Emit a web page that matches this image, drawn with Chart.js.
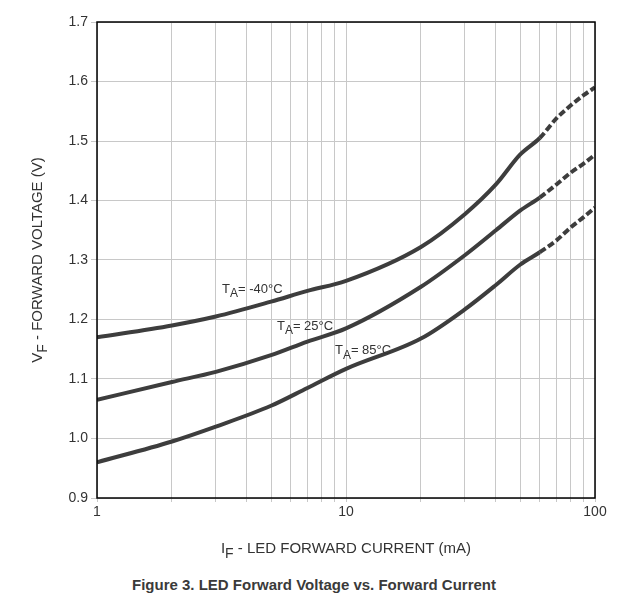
<!DOCTYPE html>
<html>
<head>
<meta charset="utf-8">
<script src="https://cdn.jsdelivr.net/npm/chart.js@4"></script>
<style>
  body { margin: 0; background: #fff; font-family: Arial, "Liberation Sans", sans-serif; }
  #wrap { position: relative; width: 628px; height: 612px; }
  #caption { position: absolute; top: 576px; left: 0; width: 628px; text-align: center;
             font-weight: bold; font-size: 15px; color: #3a3a3a; }
</style>
</head>
<body>
<div id="wrap">
  <div style="width:628px;height:575px"><canvas id="chart"></canvas></div>
  <div id="caption">Figure 3. LED Forward Voltage vs. Forward Current</div>
</div>
<script>
// --- data: IF (mA) vs VF (V) ---
const currents = [1, 2, 3, 5, 7, 10, 20, 30, 40, 50, 60, 70, 80, 90, 100];
const curves = {
    '-40': [1.17, 1.19, 1.205, 1.23, 1.248, 1.265, 1.322, 1.377, 1.427, 1.477, 1.505, 1.538, 1.56, 1.577, 1.59],
    '25':  [1.065, 1.095, 1.112, 1.14, 1.163, 1.185, 1.255, 1.308, 1.35, 1.383, 1.405, 1.427, 1.447, 1.462, 1.477],
    '85':  [0.96, 0.995, 1.02, 1.055, 1.085, 1.117, 1.168, 1.217, 1.258, 1.292, 1.313, 1.333, 1.355, 1.372, 1.388]
};
const labels = [
    { text: '-40°C', x: 3.18, y: 1.245 },
    { text: '25°C', x: 5.28, y: 1.183 },
    { text: '85°C', x: 9.03, y: 1.142 }
];
const lineColor = '#3d3d3d';

// 60 mA 이상 구간은 점선
const datasets = Object.keys(curves).map(k => ({
    data: currents.map((c, i) => ({ x: c, y: curves[k][i] })),
    borderColor: lineColor,
    borderWidth: 4,
    pointRadius: 0,
    cubicInterpolationMode: 'monotone',
    segment: { borderDash: ctx => ctx.p0.parsed.x >= 60 ? [7, 3] : undefined }
}));

const logTicks = [];
[1, 10].forEach(d => { for (let m = 1; m < 10; m++) logTicks.push({ value: m * d }); });
logTicks.push({ value: 100 });

function subText(ctx, x, y, main, sub, rest, size, measureOnly) {
    let w = 0;
    [[main, size, 0], [sub, size - 1, size * 0.35], [rest, size, 0]].forEach(([t, s, dy]) => {
        ctx.font = s + 'px Arial';
        if (!measureOnly) ctx.fillText(t, x + w, y + dy);
        w += ctx.measureText(t).width;
    });
    return w;
}

const annotations = {
    id: 'annotations',
    afterDraw(chart) {
        const { ctx, scales: { x, y }, chartArea } = chart;
        ctx.save();
        ctx.fillStyle = '#333';
        ctx.textBaseline = 'alphabetic';
        labels.forEach(l => {
            subText(ctx, x.getPixelForValue(l.x), y.getPixelForValue(l.y), 'T', 'A', '= ' + l.text, 13);
        });
        // 테두리
        ctx.strokeStyle = '#000';
        ctx.lineWidth = 1.5;
        ctx.strokeRect(chartArea.left, chartArea.top, chartArea.right - chartArea.left, chartArea.bottom - chartArea.top);
        // x축 제목
        const xt = ['I', 'F', ' - LED FORWARD CURRENT (mA)'];
        const tw = subText(ctx, 0, 0, xt[0], xt[1], xt[2], 15, true);
        subText(ctx, (chartArea.left + chartArea.right) / 2 - tw / 2, 553, xt[0], xt[1], xt[2], 15);
        // y축 제목
        ctx.save();
        ctx.translate(42, (chartArea.top + chartArea.bottom) / 2);
        ctx.rotate(-Math.PI / 2);
        const yw = subText(ctx, 0, 0, 'V', 'F', ' - FORWARD VOLTAGE (V)', 15, true);
        subText(ctx, -yw / 2, 0, 'V', 'F', ' - FORWARD VOLTAGE (V)', 15);
        ctx.restore();
        ctx.restore();
    }
};

new Chart(document.getElementById('chart'), {
    type: 'line',
    data: { datasets },
    plugins: [annotations],
    options: {
        responsive: true,
        maintainAspectRatio: false,
        animation: false,
        layout: { padding: { top: 22, right: 33 } },
        plugins: { legend: { display: false }, tooltip: { enabled: false } },
        scales: {
            x: {
                type: 'logarithmic',
                min: 1, max: 100,
                afterBuildTicks: s => { s.ticks = logTicks.map(t => ({ ...t })); },
                afterFit: s => { s.height = 77; },
                ticks: {
                    color: '#333', font: { size: 14, family: 'Arial' }, maxRotation: 0, autoSkip: false,
                    padding: 2,
                    callback: v => ([1, 10, 100].includes(v) ? String(v) : '')
                },
                grid: { color: '#c8c8c8', tickLength: 4 },
                border: { display: false }
            },
            y: {
                min: 0.9, max: 1.7,
                afterFit: s => { s.width = 97; },
                ticks: {
                    stepSize: 0.1, color: '#333', font: { size: 14, family: 'Arial' },
                    callback: v => v.toFixed(1)
                },
                grid: { color: '#c8c8c8', tickLength: 6 },
                border: { display: false }
            }
        }
    }
});
</script>
</body>
</html>
